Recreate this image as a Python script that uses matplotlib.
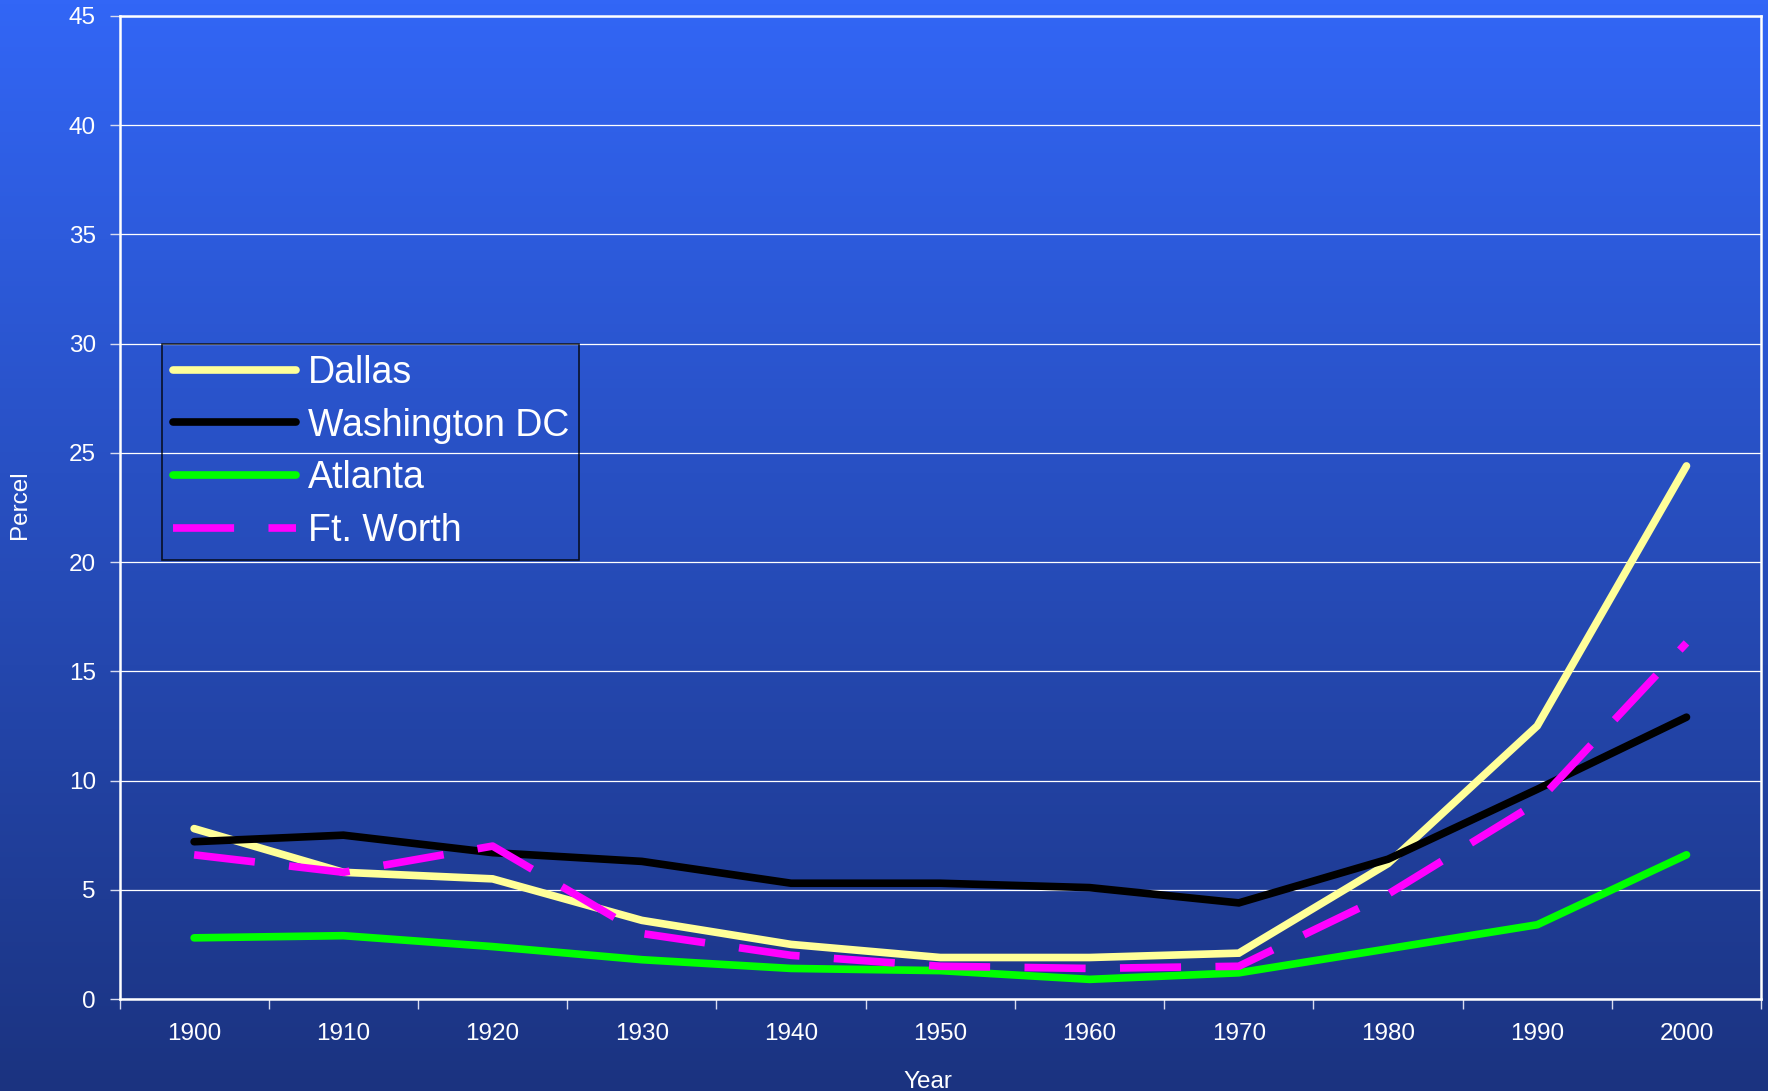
import numpy as np
import matplotlib
matplotlib.use('Agg')
import matplotlib.pyplot as plt

years = ['1900', '1910', '1920', '1930', '1940', '1950', '1960', '1970', '1980', '1990', '2000']
dallas = [7.8, 5.8, 5.5, 3.6, 2.5, 1.9, 1.9, 2.1, 6.2, 12.5, 24.4]
washington = [7.2, 7.5, 6.7, 6.3, 5.3, 5.3, 5.1, 4.4, 6.4, 9.6, 12.9]
atlanta = [2.8, 2.9, 2.4, 1.8, 1.4, 1.3, 0.9, 1.2, 2.3, 3.4, 6.6]
ft_worth = [6.6, 5.8, 7.0, 3.0, 2.0, 1.5, 1.4, 1.5, 4.8, 9.0, 16.3]
y_ticks = [0, 5, 10, 15, 20, 25, 30, 35, 40, 45]

plt.rcParams['font.family'] = ['Liberation Sans', 'DejaVu Sans']

fig = plt.figure(figsize=(17.68, 10.91), dpi=100)

# blue gradient backdrop
bg = fig.add_axes([0, 0, 1, 1], zorder=0)
top = np.array([50, 102, 246]) / 255.0
bottom = np.array([27, 51, 128]) / 255.0
t = np.linspace(0, 1, 256)[:, None]
grad = top[None, :] * (1 - t) + bottom[None, :] * t
bg.imshow(grad[:, None, :], aspect='auto', extent=[0, 1, 0, 1])
bg.axis('off')

ax = fig.add_axes([0.0676, 0.0843, 0.9285, 0.9012], zorder=1)
ax.set_facecolor('none')

x = np.arange(len(years))
ax.plot(x, dallas, color='#FFFF99', lw=5.5, solid_capstyle='round',
        solid_joinstyle='miter', label='Dallas')
ax.plot(x, washington, color='black', lw=5.5, solid_capstyle='round',
        solid_joinstyle='miter', label='Washington DC')
ax.plot(x, atlanta, color='#00FF00', lw=5.5, solid_capstyle='round',
        solid_joinstyle='miter', label='Atlanta')
ax.plot(x, ft_worth, color='#FF00FF', lw=5.5, dashes=(8, 4.5),
        dash_capstyle='butt', label='Ft. Worth')

ax.set_xlim(-0.5, len(years) - 0.5)
ax.set_ylim(0, 45)
ax.set_yticks(y_ticks)
ax.set_xticks(x)
ax.set_xticklabels(years)
ax.set_xticks(np.arange(-0.5, len(years), 1), minor=True)

ax.yaxis.grid(True, color='white', lw=0.9)
ax.set_axisbelow(True)

for s in ax.spines.values():
    s.set_color('white')
    s.set_linewidth(1.8)

ax.tick_params(axis='x', which='major', length=0, pad=17, labelsize=17.5, labelcolor='white')
ax.tick_params(axis='x', which='minor', length=7, width=1, color='#d8dcf0')
ax.tick_params(axis='y', length=7, width=1, color='#d8dcf0', pad=10,
               labelsize=17.5, labelcolor='white')

fig.text(20 / 1768, 1 - 505 / 1091, 'Percel', rotation=90, ha='center', va='center',
         color='white', fontsize=17.5)
fig.text(928 / 1768, 1 - 1071 / 1091, 'Year', ha='center', va='top',
         color='white', fontsize=17.5)

leg = ax.legend(loc='upper left', bbox_to_anchor=(0.0259, 0.666), borderaxespad=0,
                fontsize=27, handlelength=3.3, handletextpad=0.3, labelspacing=0.45,
                borderpad=0.28, fancybox=False, frameon=True)
leg.get_frame().set_facecolor('none')
leg.get_frame().set_edgecolor('black')
leg.get_frame().set_linewidth(1.2)
for txt in leg.get_texts():
    txt.set_color('white')

fig.savefig('out.png', dpi=100)
